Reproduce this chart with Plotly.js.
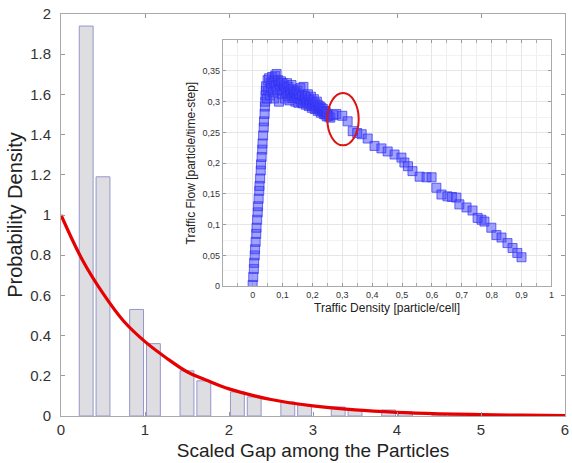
<!DOCTYPE html>
<html>
<head>
<meta charset="utf-8">
<script src="https://cdn.plot.ly/plotly-3.0.1.min.js"></script>
<style>html,body{margin:0;padding:0;background:#fff;}#chart{width:572px;height:463px;}</style>
</head>
<body>
<div id="chart"></div>
<script>
// Histogram of scaled gaps (two series per bin)
var binCenters = [0.4, 1.0, 1.6, 2.2, 2.8, 3.4, 4.0, 4.6, 5.2, 5.8];
var densityA = [1.94, 0.53, 0.225, 0.12, 0.07, 0.045, 0.03, 0.012, 0.006, 0.003];
var densityB = [1.19, 0.36, 0.175, 0.095, 0.055, 0.03, 0.02, 0.008, 0.004, 0.002];

// Red fitted curve
var curveX = [0, 0.25, 0.5, 0.75, 1.0, 1.25, 1.5, 1.75, 2.0, 2.5, 3.0, 3.5, 4.0, 4.5, 5.0, 5.5, 6.0];
var curveY = [1.0, 0.78, 0.61, 0.47, 0.37, 0.29, 0.22, 0.175, 0.135, 0.082, 0.05, 0.03, 0.018, 0.011, 0.007, 0.004, 0.0025];

// Inset: fundamental diagram
var riseDensity = [0.000,0.002,0.004,0.005,0.007,0.008,0.010,0.012,0.013,0.015,0.017,0.018,0.020,0.022,0.023,0.025,0.027,0.028,0.030,0.032,0.033,0.035,0.037,0.038,0.040,0.041,0.042,0.043,0.044];
var riseFlow = [0.002,0.015,0.028,0.038,0.050,0.060,0.072,0.085,0.095,0.108,0.120,0.130,0.142,0.155,0.163,0.175,0.188,0.198,0.210,0.222,0.232,0.245,0.258,0.268,0.280,0.292,0.300,0.310,0.318];
var clusterDensity = [0.045,0.048,0.050,0.052,0.055,0.057,0.060,0.062,0.065,0.068,0.070,0.072,0.075,0.078,0.080,0.083,0.085,0.088,0.090,0.093,0.095,0.098,0.100,0.103,0.105,0.108,0.110,0.113,0.115,0.118,0.120,0.123,0.125,0.128,0.130,0.133,0.135,0.138,0.140,0.143,0.145,0.148,0.150,0.153,0.155,0.158,0.160,0.163,0.165,0.168,0.170,0.173,0.175,0.178,0.180,0.183,0.185,0.188,0.190,0.193,0.195,0.198,0.200,0.203,0.205,0.208,0.210,0.213,0.215,0.218,0.220,0.223,0.225,0.228,0.230,0.233,0.235,0.238,0.240,0.243,0.245,0.248,0.250,0.255,0.260];
var clusterFlow = [0.325,0.305,0.335,0.318,0.338,0.310,0.330,0.322,0.340,0.315,0.333,0.305,0.342,0.325,0.345,0.318,0.335,0.300,0.328,0.320,0.333,0.312,0.330,0.318,0.326,0.305,0.322,0.314,0.330,0.309,0.324,0.302,0.318,0.312,0.327,0.306,0.320,0.310,0.316,0.300,0.314,0.306,0.318,0.298,0.312,0.304,0.322,0.300,0.310,0.297,0.324,0.303,0.309,0.295,0.306,0.299,0.312,0.293,0.303,0.296,0.308,0.290,0.300,0.293,0.304,0.288,0.297,0.290,0.300,0.285,0.294,0.287,0.292,0.282,0.290,0.284,0.288,0.280,0.285,0.279,0.283,0.276,0.280,0.276,0.274];
var declineDensity = [0.27,0.28,0.30,0.318,0.335,0.35,0.365,0.385,0.408,0.431,0.452,0.475,0.498,0.508,0.52,0.535,0.559,0.582,0.599,0.615,0.632,0.652,0.667,0.682,0.692,0.716,0.736,0.753,0.766,0.776,0.799,0.816,0.833,0.853,0.87,0.886,0.9];
var declineFlow = [0.278,0.28,0.277,0.268,0.252,0.249,0.247,0.24,0.228,0.224,0.219,0.214,0.209,0.201,0.195,0.187,0.178,0.177,0.177,0.16,0.149,0.146,0.145,0.144,0.133,0.128,0.123,0.111,0.108,0.105,0.095,0.083,0.079,0.07,0.062,0.054,0.047];

var insetXTicks = [0,0.1,0.2,0.3,0.4,0.5,0.6,0.7,0.8,0.9,1];
var insetXText = ['0','0,1','0,2','0,3','0,4','0,5','0,6','0,7','0,8','0,9','1'];
var insetYTicks = [0,0.05,0.1,0.15,0.2,0.25,0.3,0.35];
var insetYText = ['0','0,05','0,1','0,15','0,2','0,25','0,3','0,35'];

var barStyle = {color:'rgb(221,221,226)', line:{color:'rgb(150,150,205)', width:1}};
var traces = [
  {type:'bar', x:binCenters, y:densityA, marker:barStyle, xaxis:'x', yaxis:'y', hoverinfo:'none'},
  {type:'bar', x:binCenters, y:densityB, marker:barStyle, xaxis:'x', yaxis:'y', hoverinfo:'none'},
  {type:'scatter', mode:'lines', x:curveX, y:curveY, line:{color:'rgb(230,0,0)', width:3.2, shape:'spline'}, xaxis:'x', yaxis:'y'},
  {type:'scatter', mode:'markers',
   x:riseDensity.concat(clusterDensity, declineDensity),
   y:riseFlow.concat(clusterFlow, declineFlow),
   marker:{symbol:'square', size:9, color:'rgba(70,70,255,0.5)', line:{color:'rgba(50,50,240,0.7)', width:1}},
   xaxis:'x2', yaxis:'y2'}
];

var font = 'Liberation Sans, Arial, sans-serif';
var layout = {
  width:572, height:463,
  margin:{l:61, r:7, t:14, b:47},
  paper_bgcolor:'#fff', plot_bgcolor:'#fff',
  showlegend:false,
  barmode:'group', bargap:0.333, bargroupgap:0.175,
  font:{family:font, color:'#333'},
  xaxis:{domain:[0,1], range:[0,6], tickvals:[0,1,2,3,4,5,6], ticks:'inside', ticklen:4, tickcolor:'#999',
         ticklabeloverflow:'allow',
         showline:true, linecolor:'#aaa', linewidth:1, mirror:'ticks', showgrid:false, zeroline:false,
         tickfont:{size:15, color:'#333'},
         title:{text:'Scaled Gap among the Particles', font:{size:19, color:'#222'}, standoff:6}},
  yaxis:{domain:[0,1], range:[0,2], tickvals:[0,0.2,0.4,0.6,0.8,1,1.2,1.4,1.6,1.8,2],
         ticktext:['0','0.2','0.4','0.6','0.8','1','1.2','1.4','1.6','1.8','2'],
         ticks:'inside', ticklen:4, tickcolor:'#999', ticklabelstandoff:6,
         showline:true, linecolor:'#aaa', linewidth:1, mirror:'ticks', showgrid:false, zeroline:false,
         tickfont:{size:15, color:'#333'},
         title:{text:'Probability Density', font:{size:20, color:'#222'}, standoff:2}},
  xaxis2:{domain:[0.321,0.973], range:[-0.1,1], anchor:'y2', tickvals:insetXTicks, ticktext:insetXText,
          ticks:'inside', ticklen:3, tickcolor:'#999', showline:true, linecolor:'#aaa', mirror:'ticks',
          showgrid:true, gridcolor:'#e6e6e6', zeroline:false,
          minor:{dtick:0.05, ticks:'inside', ticklen:3, tickcolor:'#aaa', showgrid:true, gridcolor:'#efefef'},
          tickfont:{size:9, color:'#333'},
          title:{text:'Traffic Density [particle/cell]', font:{size:12, color:'#222'}, standoff:4}},
  yaxis2:{domain:[0.323,0.935], range:[0,0.4], anchor:'x2', tickvals:insetYTicks, ticktext:insetYText,
          ticks:'inside', ticklen:3, tickcolor:'#999', showline:true, linecolor:'#aaa', mirror:'ticks',
          showgrid:true, gridcolor:'#e6e6e6', zeroline:false,
          minor:{dtick:0.025, ticks:'', showgrid:true, gridcolor:'#f2f2f2'},
          tickfont:{size:9, color:'#333'},
          title:{text:'Traffic Flow [particle/time-step]', font:{size:12, color:'#222'}, standoff:4}},
  shapes:[
    {type:'circle', xref:'x2', yref:'y2', x0:0.25, x1:0.355, y0:0.229, y1:0.314, line:{color:'rgb(220,20,20)', width:2}}
  ]
};

Plotly.newPlot('chart', traces, layout, {staticPlot:true, displayModeBar:false});
</script>
</body>
</html>
